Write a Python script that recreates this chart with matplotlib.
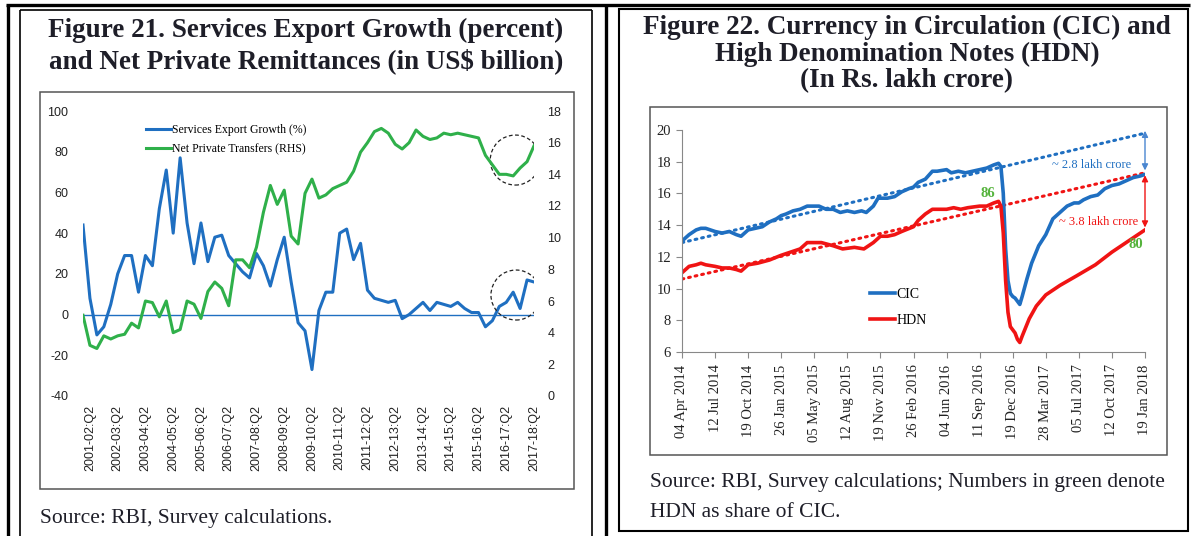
import numpy as np
import matplotlib.pyplot as plt
from matplotlib.patches import Rectangle, Ellipse
from matplotlib.lines import Line2D

plt.rcParams['axes.unicode_minus'] = False

W, H = 1200, 536
SERIF = 'Liberation Serif'
SANS = 'Liberation Sans'

# ---- Figure 21 data: quarterly, 2001-02:Q1 .. 2017-18:Q2
services_growth = [44, 8, -10, -6, 5, 20, 29, 29, 11, 29,
                   24, 52, 71, 40, 77, 45, 25, 45, 26, 38,
                   39, 29, 25, 21, 18, 30, 24, 14, 27, 38,
                   16, -4, -8, -27, 2, 11, 11, 40, 42, 27,
                   35, 12, 8, 7, 6, 7, -2, 0, 3, 6,
                   2, 6, 5, 4, 6, 3, 1, 1, -6, -3,
                   4, 6, 11, 3, 17, 16]
net_transfers = [5.1, 3.2, 3.0, 3.8, 3.6, 3.8, 3.9, 4.6, 4.3, 6.0,
                 5.9, 5.0, 6.0, 4.0, 4.2, 6.0, 5.8, 4.9, 6.6, 7.2,
                 6.8, 5.7, 8.6, 8.6, 8.1, 9.4, 11.6, 13.3, 12.1, 13.0,
                 10.1, 9.6, 12.8, 13.7, 12.5, 12.7, 13.1, 13.3, 13.5, 14.2,
                 15.4, 16.0, 16.7, 16.9, 16.6, 15.9, 15.6, 16.0, 16.8, 16.4,
                 16.2, 16.3, 16.6, 16.5, 16.6, 16.5, 16.4, 16.3, 15.2, 14.6,
                 14.0, 14.0, 13.9, 14.4, 14.8, 15.8]
quarter_labels = ["2001-02:Q2", "2002-03:Q2", "2003-04:Q2", "2004-05:Q2",
                  "2005-06:Q2", "2006-07:Q2", "2007-08:Q2", "2008-09:Q2",
                  "2009-10:Q2", "2010-11:Q2", "2011-12:Q2", "2012-13:Q2",
                  "2013-14:Q2", "2014-15:Q2", "2015-16:Q2", "2016-17:Q2",
                  "2017-18:Q2"]

# ---- Figure 22 data: weeks since 04 Apr 2014, Rs. lakh crore
cic_weeks = [0, 3, 6, 8, 10, 12, 14, 17, 20, 23, 25, 28, 31, 34, 37, 40, 42, 44,
             47, 50, 53, 58, 61, 64, 67, 70, 73, 76, 78, 81, 83, 87, 90, 93, 96,
             98, 100, 103, 106, 108, 112, 114, 117, 120, 123, 126, 129, 132, 134,
             135, 136, 137, 138, 139, 140, 141, 142, 143, 144, 146, 148, 151, 154,
             157, 160, 163, 166, 168, 170, 173, 176, 179, 182, 185, 188, 191, 194, 196]
cic_values = [13.0, 13.4, 13.7, 13.8, 13.8, 13.7, 13.6, 13.5, 13.6, 13.4, 13.3, 13.7,
              13.8, 13.9, 14.2, 14.4, 14.6, 14.7, 14.9, 15.0, 15.2, 15.2, 15.0, 15.0,
              14.8, 14.9, 14.8, 14.9, 14.8, 15.2, 15.7, 15.7, 15.8, 16.1, 16.3, 16.4,
              16.7, 16.9, 17.4, 17.4, 17.5, 17.3, 17.4, 17.3, 17.4, 17.5, 17.6, 17.8,
              17.9, 17.7, 16.0, 12.5, 10.5, 9.7, 9.5, 9.4, 9.2, 9.0, 9.5, 10.6, 11.6,
              12.7, 13.4, 14.4, 14.8, 15.2, 15.4, 15.4, 15.6, 15.8, 15.9, 16.3, 16.5,
              16.6, 16.8, 17.0, 17.1, 17.2]
hdn_weeks = [0, 3, 6, 8, 10, 14, 17, 20, 23, 25, 28, 32, 37, 42, 46, 50, 53, 56, 59,
             64, 68, 73, 77, 81, 84, 87, 90, 93, 98, 100, 103, 106, 109, 112, 115,
             118, 121, 126, 129, 132, 134, 135, 136, 137, 138, 139, 141, 142, 143,
             144, 147, 150, 154, 160, 167, 175, 182, 190, 196]
hdn_values = [11.0, 11.4, 11.5, 11.6, 11.5, 11.4, 11.3, 11.3, 11.2, 11.1, 11.5, 11.6,
              11.8, 12.1, 12.3, 12.5, 12.9, 12.9, 12.9, 12.7, 12.5, 12.6, 12.5, 12.9,
              13.3, 13.3, 13.4, 13.6, 13.9, 14.3, 14.7, 15.0, 15.0, 15.0, 15.1, 15.0,
              15.1, 15.2, 15.2, 15.4, 15.5, 15.2, 13.5, 10.5, 8.5, 7.6, 7.2, 6.8, 6.6,
              7.0, 8.1, 8.9, 9.6, 10.2, 10.8, 11.5, 12.3, 13.1, 13.7]
trend_weeks = [0, 196]
cic_trend = [12.9, 19.8]
hdn_trend = [10.6, 17.3]
date_labels = ["04 Apr 2014", "12 Jul 2014", "19 Oct 2014", "26 Jan 2015",
               "05 May 2015", "12 Aug 2015", "19 Nov 2015", "26 Feb 2016",
               "04 Jun 2016", "11 Sep 2016", "19 Dec 2016", "28 Mar 2017",
               "05 Jul 2017", "12 Oct 2017", "19 Jan 2018"]

BLUE = '#1f6fc1'
GREEN = '#2fb04a'
RED = '#f01414'
LBLUE = '#4a86d0'
NUMGREEN = '#55b33c'


def fx(x):
    return x / W


def fy(y):
    return 1 - y / H


fig = plt.figure(figsize=(12, 5.36), dpi=100)


def line(x0, y0, x1, y1, lw, color='black'):
    fig.add_artist(Line2D([fx(x0), fx(x1)], [fy(y0), fy(y1)],
                          transform=fig.transFigure, color=color, lw=lw,
                          solid_capstyle='butt'))


def box(x0, y0, x1, y1, lw, color):
    fig.add_artist(Rectangle((fx(x0), fy(y1)), fx(x1) - fx(x0), fy(y0) - fy(y1),
                             transform=fig.transFigure, fill=False, lw=lw,
                             ec=color))


# outer frames
line(6, 5, 1190, 5, 2.4)
line(8, 5, 8, 536, 2.4)
line(606, 5, 606, 536, 2.4)
line(20, 10, 592, 10, 1.2)
line(20, 10, 20, 540, 1.2)
line(592, 10, 592, 540, 1.2)
box(619, 9, 1188, 531, 1.5, 'black')
box(40, 92, 574, 489, 1.1, '#555555')
box(650, 107, 1167, 455, 1.1, '#555555')

# titles and sources
tkw = dict(family=SERIF, fontweight='bold', fontsize=19.5, color='#1e1e28',
           ha='center', va='baseline')
fig.text(fx(306), fy(37), "Figure 21. Services Export Growth (percent)", **tkw)
fig.text(fx(306), fy(68), "and Net Private Remittances (in US$ billion)", **tkw)
fig.text(fx(907), fy(34), "Figure 22. Currency in Circulation (CIC) and", **tkw)
fig.text(fx(907), fy(61), "High Denomination Notes (HDN)", **tkw)
fig.text(fx(907), fy(87), "(In Rs. lakh crore)", **tkw)

skw = dict(family=SERIF, fontsize=15.5, color='#1e1e28', ha='left', va='baseline')
fig.text(fx(40), fy(523), "Source: RBI, Survey calculations.", **skw)
fig.text(fx(650), fy(487), "Source: RBI, Survey calculations; Numbers in green denote", **skw)
fig.text(fx(650), fy(517), "HDN as share of CIC.", **skw)

# ---- Figure 21 chart
ax1 = fig.add_axes([fx(83), fy(396), (534 - 83) / W, (396 - 111) / H])
ax1b = ax1.twinx()
q = np.arange(len(services_growth))
ax1.axhline(0, color=BLUE, lw=1.0)
l1, = ax1.plot(q, services_growth, color=BLUE, lw=2.2, solid_joinstyle='round')
l2, = ax1b.plot(q, net_transfers, color=GREEN, lw=2.2, solid_joinstyle='round')
ax1.set_xlim(0, len(services_growth) - 1)
ax1.set_ylim(-40, 100)
ax1b.set_ylim(0, 18)
ax1.set_yticks(range(-40, 101, 20))
ax1b.set_yticks(range(0, 19, 2))
ax1.set_xticks(q[1::4])
ax1.set_xticklabels(quarter_labels)
for a in (ax1, ax1b):
    for s in a.spines.values():
        s.set_visible(False)
    a.set_facecolor('none')
ax1.tick_params(axis='y', length=0, pad=10.5, labelsize=9)
ax1b.tick_params(axis='y', length=0, pad=9.5, labelsize=9)
ax1.tick_params(axis='x', length=0, pad=6.5, labelsize=9, rotation=90)
for lab in ax1.get_xticklabels() + ax1.get_yticklabels() + ax1b.get_yticklabels():
    lab.set_family(SANS)
    lab.set_color('#222222')

# dashed circles
r_px = 25
cw = 2 * r_px * (len(services_growth) - 1) / 451
ch = 2 * r_px * 140 / 285
for cx, cy in [(62.3, 75.9), (62.4, 9.6)]:
    ax1b.add_patch(Ellipse((cx, cy), cw, ch, transform=ax1.transData,
                           fill=False, ec='#222222', lw=0.9, ls=(0, (3, 2))))

ax1b.legend([l1, l2], ["Services Export Growth (%)", "Net Private Transfers (RHS)"],
            loc='upper left', bbox_to_anchor=(0.14, 0.955), frameon=False,
            borderpad=0, borderaxespad=0, handlelength=2.1, handletextpad=0.1,
            labelspacing=0.6, prop={'family': SERIF, 'size': 8.5})

# ---- Figure 22 chart
ax2 = fig.add_axes([fx(682), fy(352), (1145 - 682) / W, (352 - 130) / H])
ax2.plot(trend_weeks, cic_trend, color=BLUE, lw=2.2, ls=(0, (0.6, 1.6)),
         dash_capstyle='round')
ax2.plot(trend_weeks, hdn_trend, color=RED, lw=2.2, ls=(0, (0.6, 1.6)),
         dash_capstyle='round')
c1, = ax2.plot(cic_weeks, cic_values, color=BLUE, lw=2.6, solid_joinstyle='round')
c2, = ax2.plot(hdn_weeks, hdn_values, color=RED, lw=2.6, solid_joinstyle='round')
ax2.set_xlim(0, 196)
ax2.set_ylim(6, 20)
ax2.set_yticks(range(6, 21, 2))
ax2.set_xticks(range(0, 197, 14))
ax2.set_xticklabels(date_labels)
ax2.spines['top'].set_visible(False)
ax2.spines['right'].set_visible(False)
ax2.spines['left'].set_color('#888888')
ax2.spines['bottom'].set_color('#888888')
ax2.set_facecolor('none')
ax2.tick_params(axis='both', direction='out', length=4, color='#888888',
                labelsize=10.5, labelcolor='#222222')
ax2.tick_params(axis='y', pad=4)
ax2.tick_params(axis='x', pad=5, rotation=90)
for lab in ax2.get_xticklabels() + ax2.get_yticklabels():
    lab.set_family(SERIF)

ax2.annotate('', xy=(196, 19.95), xytext=(196, 17.45), annotation_clip=False,
             arrowprops=dict(arrowstyle='<|-|>', color=LBLUE, lw=1.0,
                             mutation_scale=9, shrinkA=0, shrinkB=0))
ax2.annotate('', xy=(196, 17.15), xytext=(196, 13.85), annotation_clip=False,
             arrowprops=dict(arrowstyle='<|-|>', color=RED, lw=1.0,
                             mutation_scale=9, shrinkA=0, shrinkB=0))
ax2.text(190, 17.8, "~ 2.8 lakh crore", ha='right', va='center', color=BLUE,
         family=SERIF, fontsize=9)
ax2.text(193, 14.2, "~ 3.8 lakh crore", ha='right', va='center', color=RED,
         family=SERIF, fontsize=9)
ax2.text(129.6, 16.0, "86", ha='center', va='center', color=NUMGREEN,
         family=SERIF, fontsize=10.5, fontweight='bold')
ax2.text(192, 12.8, "80", ha='center', va='center', color=NUMGREEN,
         family=SERIF, fontsize=10.5, fontweight='bold')

ax2.legend([c1, c2], ["CIC", "HDN"], loc='upper left',
           bbox_to_anchor=(0.407, 0.29), frameon=False, borderpad=0,
           borderaxespad=0, handlelength=1.8, handletextpad=0.1,
           labelspacing=0.95, prop={'family': SERIF, 'size': 10})

fig.savefig('out.png', dpi=100)
